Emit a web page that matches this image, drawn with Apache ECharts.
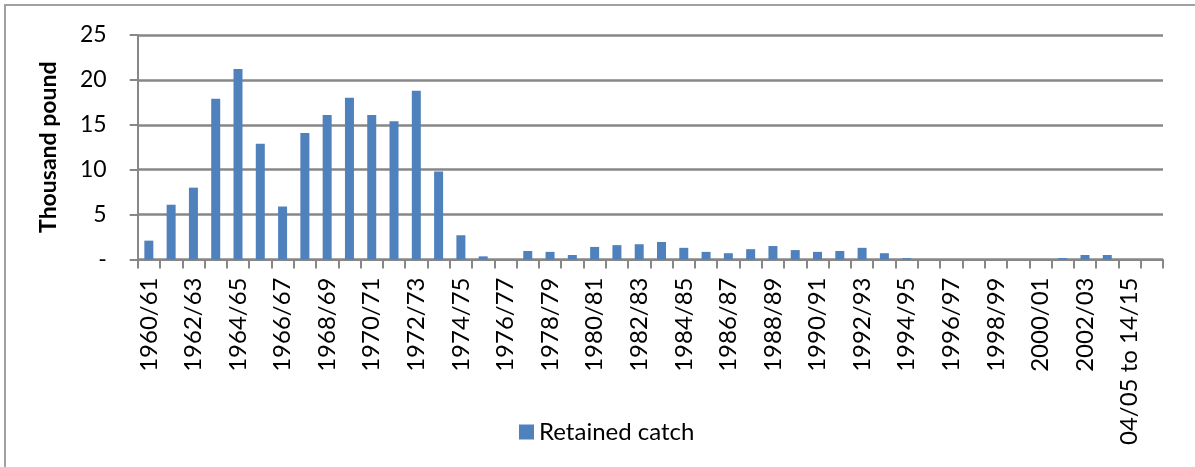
<!DOCTYPE html>
<html>
<head>
<meta charset="utf-8">
<script src="https://cdn.jsdelivr.net/npm/echarts@6/dist/echarts.min.js"></script>
<style>
html,body{margin:0;padding:0;background:#fff;}
#chart{width:1195px;height:467px;}
</style>
</head>
<body>
<div id="chart"></div>
<script>
const categories = [
  '1960/61','1961/62','1962/63','1963/64','1964/65','1965/66','1966/67','1967/68',
  '1968/69','1969/70','1970/71','1971/72','1972/73','1973/74','1974/75','1975/76',
  '1976/77','1977/78','1978/79','1979/80','1980/81','1981/82','1982/83','1983/84',
  '1984/85','1985/86','1986/87','1987/88','1988/89','1989/90','1990/91','1991/92',
  '1992/93','1993/94','1994/95','1995/96','1996/97','1997/98','1998/99','1999/00',
  '2000/01','2001/02','2002/03','2003/04','04/05 to 14/15',''
];
const retainedCatch = [
  2.1, 6.1, 8.0, 17.9, 21.2, 12.9, 5.9, 14.1,
  16.1, 18.0, 16.1, 15.4, 18.8, 9.8, 2.7, 0.35,
  0, 0.95, 0.85, 0.5, 1.4, 1.6, 1.7, 1.95,
  1.3, 0.85, 0.7, 1.15, 1.5, 1.05, 0.85, 0.95,
  1.3, 0.7, 0.15, 0, 0, 0, 0, 0,
  0, 0.17, 0.5, 0.5, 0, null
];
const yTicks = [0, 5, 10, 15, 20, 25];
const seriesName = 'Retained catch';
const yAxisTitle = 'Thousand pound';

const FONT = 'Lato';
const GRID_COLOR = '#878787';

const chart = echarts.init(document.getElementById('chart'), null, {renderer: 'canvas'});
chart.setOption({
  animation: false,
  backgroundColor: '#ffffff',
  textStyle: {fontFamily: FONT},
  graphic: [{
    type: 'rect',
    shape: {x: 5, y: 5, width: 1220, height: 500},
    style: {fill: 'none', stroke: '#a0a0a0', lineWidth: 2},
    silent: true
  }],
  grid: {left: 137.7, right: 32, top: 35, bottom: 207.5, containLabel: false},
  legend: {
    data: [seriesName],
    left: 514,
    top: 415,
    itemWidth: 15,
    itemHeight: 15,
    itemGap: 8,
    icon: 'rect',
    textStyle: {fontFamily: FONT, fontSize: 24, color: '#000'}
  },
  xAxis: {
    type: 'category',
    data: categories,
    boundaryGap: true,
    axisLine: {show: true, lineStyle: {color: GRID_COLOR, width: 2}},
    axisTick: {show: true, length: 9, interval: 0, lineStyle: {color: GRID_COLOR, width: 2}},
    axisLabel: {
      interval: 1,
      rotate: 90,
      margin: 18,
      fontFamily: FONT,
      fontSize: 24,
      color: '#000'
    }
  },
  yAxis: {
    type: 'value',
    min: yTicks[0],
    max: yTicks[yTicks.length - 1],
    interval: 5,
    name: yAxisTitle,
    nameLocation: 'middle',
    nameRotate: 90,
    nameGap: 78,
    nameTextStyle: {fontFamily: FONT, fontSize: 23, fontWeight: 'bold', color: '#000'},
    axisLine: {show: true, lineStyle: {color: GRID_COLOR, width: 2}},
    axisTick: {show: true, length: 8, lineStyle: {color: GRID_COLOR, width: 2}},
    splitLine: {show: true, lineStyle: {color: GRID_COLOR, width: 2.5}},
    axisLabel: {
      margin: 31,
      fontFamily: FONT,
      fontSize: 23,
      color: '#000',
      formatter: function (v) { return v === 0 ? '-' : String(v); }
    }
  },
  series: [{
    name: seriesName,
    type: 'bar',
    data: retainedCatch,
    barWidth: 9,
    itemStyle: {color: '#4F81BD'}
  }]
});
</script>
</body>
</html>
